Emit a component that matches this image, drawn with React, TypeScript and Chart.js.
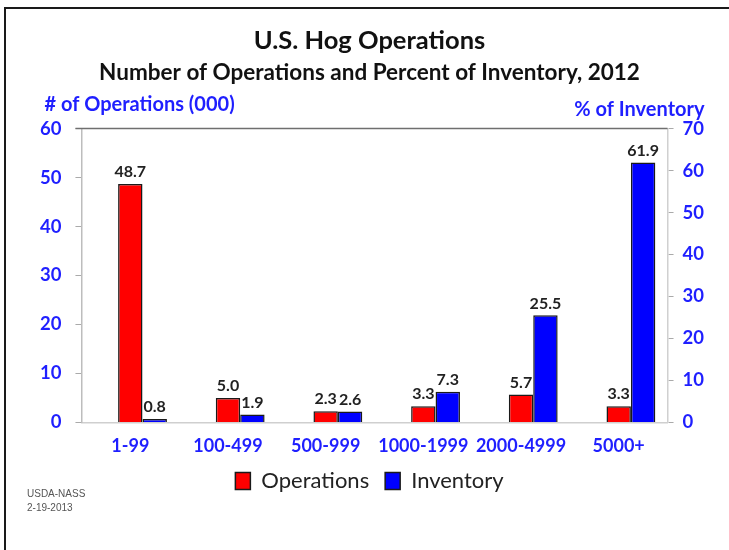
import React, { useEffect, useRef } from "react";
import { Chart, registerables } from "chart.js";

Chart.register(...registerables);

const categories = ["1-99", "100-499", "500-999", "1000-1999", "2000-4999", "5000+"];
const operations = [48.7, 5.0, 2.3, 3.3, 5.7, 3.3];
const inventory = [0.8, 1.9, 2.6, 7.3, 25.5, 61.9];
const spacer = [null, null, null, null, null, null];

const leftMax = 60;
const rightMax = 70;
const tickStep = 10;

const titleText = "U.S. Hog Operations";
const subtitleText = "Number of Operations and Percent of Inventory, 2012";
const leftAxisTitle = "# of Operations (000)";
const rightAxisTitle = "% of Inventory";
const footerLines = ["USDA-NASS", "2-19-2013"];

const BLUE = "#1f1fff";
const FONT = "Lato";

const extrasPlugin = {
  id: "extras",
  afterDraw(chart: any) {
    const { ctx, chartArea } = chart;
    ctx.save();
    // top frame line of plot
    ctx.strokeStyle = "#6f6f6f";
    ctx.lineWidth = 1.5;
    ctx.beginPath();
    ctx.moveTo(chartArea.left - 6, chartArea.top);
    ctx.lineTo(chartArea.right, chartArea.top);
    ctx.stroke();

    // axis titles
    ctx.font = `bold 20px ${FONT}`;
    ctx.fillStyle = BLUE;
    ctx.textBaseline = "middle";
    ctx.textAlign = "left";
    ctx.fillText(leftAxisTitle, chartArea.left - 37, chartArea.top - 24);
    ctx.textAlign = "right";
    ctx.fillText(rightAxisTitle, chartArea.right + 37, chartArea.top - 19);

    // data labels
    ctx.font = `bold 16px ${FONT}`;
    ctx.fillStyle = "#222";
    ctx.textAlign = "center";
    ctx.textBaseline = "bottom";
    [1, 2].forEach((di) => {
      const meta = chart.getDatasetMeta(di);
      meta.data.forEach((el: any, i: number) => {
        const v = chart.data.datasets[di].data[i];
        if (v == null) return;
        ctx.fillText(Number(v).toFixed(1), el.x, el.y - 4);
      });
    });

    // footer
    ctx.font = `10px "Liberation Sans Narrow", "Liberation Sans", Arial`;
    ctx.fillStyle = "#555";
    ctx.textAlign = "left";
    ctx.textBaseline = "middle";
    footerLines.forEach((t, i) => ctx.fillText(t, 27, 494 + i * 14));
    ctx.restore();
  },
};

export default function App() {
  const ref = useRef<HTMLCanvasElement | null>(null);

  useEffect(() => {
    if (!ref.current) return;
    const tickFont = { family: FONT, size: 18.5, weight: "bold" as const };
    const xTickFont = { family: FONT, size: 18, weight: "bold" as const };
    const chart = new Chart(ref.current, {
      type: "bar",
      data: {
        labels: categories,
        datasets: [
          { label: "spacer", data: spacer, backgroundColor: "transparent", yAxisID: "y" },
          {
            label: "Operations",
            data: operations,
            backgroundColor: "#ff0000",
            borderColor: "#1a1a1a",
            borderWidth: 1.5,
            yAxisID: "y",
          },
          {
            label: "Inventory",
            data: inventory,
            backgroundColor: "#0000ff",
            borderColor: "#1a1a1a",
            borderWidth: 1.5,
            yAxisID: "y1",
          },
        ],
      },
      options: {
        responsive: false,
        animation: false,
        events: [],
        layout: { padding: { left: 26, right: 16, top: 0, bottom: 48 } },
        datasets: { bar: { categoryPercentage: 0.75, barPercentage: 1 } },
        scales: {
          x: {
            grid: { display: false, drawTicks: false },
            border: { color: "#cfcfcf", width: 1.5 },
            ticks: {
              color: BLUE,
              font: xTickFont,
              padding: 13,
              maxRotation: 0,
              minRotation: 0,
              autoSkip: false,
            },
            afterFit: (scale: any) => {
              scale.height -= 16;
            },
          },
          y: {
            position: "left",
            min: 0,
            max: leftMax,
            ticks: { stepSize: tickStep, color: BLUE, font: tickFont, padding: 14 },
            grid: { drawOnChartArea: false, tickLength: 6, color: "#aaaaaa" },
            border: { color: "#bdbdbd", width: 1.5 },
          },
          y1: {
            position: "right",
            min: 0,
            max: rightMax,
            ticks: { stepSize: tickStep, color: BLUE, font: tickFont, padding: 9 },
            grid: { drawOnChartArea: false, tickLength: 6, color: "#aaaaaa" },
            border: { color: "#d0d0d0", width: 1.5, dash: [2, 2] },
          },
        },
        plugins: {
          tooltip: { enabled: false },
          title: {
            display: true,
            text: titleText,
            color: "#111",
            font: { family: FONT, size: 25.5, weight: "bold" },
            padding: { top: 25, bottom: 3 },
          },
          subtitle: {
            display: true,
            text: subtitleText,
            color: "#111",
            font: { family: FONT, size: 22.5, weight: "bold" },
            padding: { top: 1, bottom: 42 },
          },
          legend: {
            position: "bottom",
            labels: {
              color: "#222",
              font: { family: FONT, size: 22 },
              boxWidth: 15,
              boxHeight: 17,
              padding: 16,
              filter: (item: any) => item.datasetIndex !== 0,
            },
          },
        },
      },
      plugins: [extrasPlugin],
    });
    return () => chart.destroy();
  }, []);

  return (
    <div style={{ position: "absolute", left: 0, top: 0, width: 729, height: 550, background: "#fff" }}>
      <canvas ref={ref} width={729} height={550} style={{ position: "absolute", left: 0, top: 0 }} />
      <div
        style={{
          position: "absolute",
          left: 4,
          top: 7,
          right: 0,
          bottom: 0,
          borderTop: "2px solid #1a1a1a",
          borderLeft: "2px solid #1a1a1a",
          pointerEvents: "none",
        }}
      />
    </div>
  );
}
